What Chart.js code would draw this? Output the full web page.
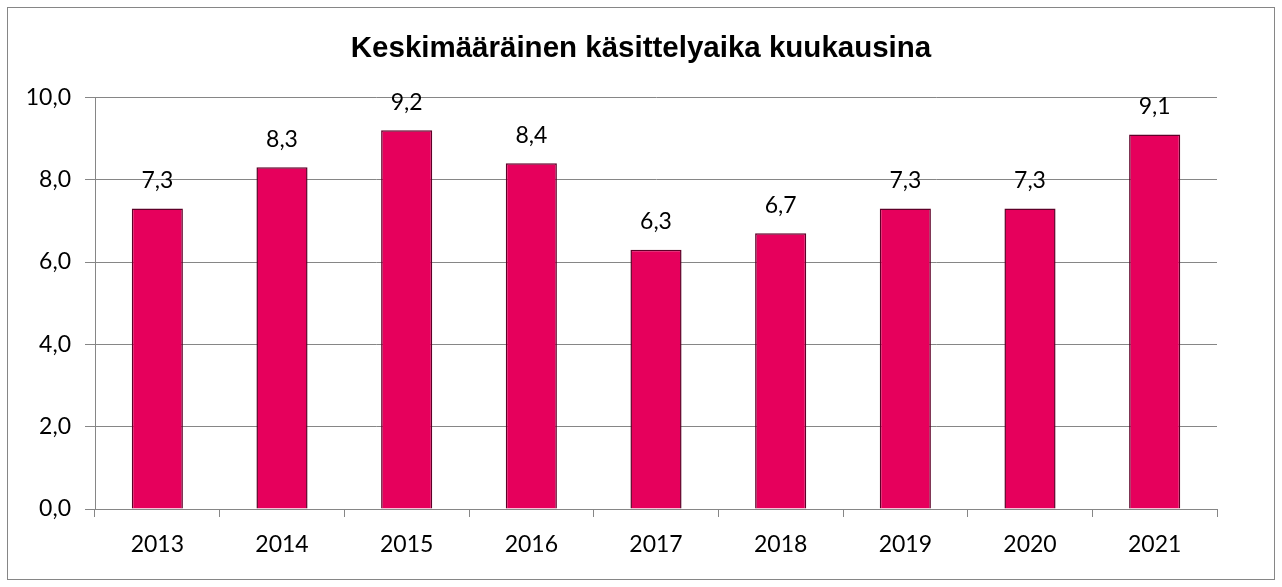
<!DOCTYPE html>
<html>
<head>
<meta charset="utf-8">
<script src="https://cdn.jsdelivr.net/npm/chart.js@4"></script>
<style>
  html, body { margin: 0; padding: 0; background: #fff; }
  #wrap { position: relative; width: 1282px; height: 587px; }
</style>
</head>
<body>
<div id="wrap"><canvas id="chart" width="1282" height="587"></canvas></div>
<script>
const years = ["2013", "2014", "2015", "2016", "2017", "2018", "2019", "2020", "2021"];
const months = [7.3, 8.3, 9.2, 8.4, 6.3, 6.7, 7.3, 7.3, 9.1];
const chartTitle = "Keskimääräinen käsittelyaika kuukausina";

const fmt = (v) => v.toFixed(1).replace(".", ",");

// outer frame like the spreadsheet chart box
const frame = {
  id: "frame",
  beforeDraw(chart) {
    const { ctx, width, height } = chart;
    ctx.save();
    ctx.fillStyle = "#fff";
    ctx.fillRect(0, 0, width, height);
    ctx.strokeStyle = "#868686";
    ctx.lineWidth = 1;
    ctx.strokeRect(7.5, 7.5, width - 15, height - 15);
    ctx.restore();
  },
};

const valueLabels = {
  id: "valueLabels",
  afterDatasetsDraw(chart) {
    const { ctx } = chart;
    const meta = chart.getDatasetMeta(0);
    ctx.save();
    ctx.font = "23px Lato, sans-serif";
    ctx.fillStyle = "#000";
    ctx.textAlign = "center";
    ctx.textBaseline = "middle";
    meta.data.forEach((bar, i) => {
      ctx.fillText(fmt(months[i]), bar.x, bar.y - 28);
    });
    ctx.restore();
  },
};

new Chart(document.getElementById("chart"), {
  type: "bar",
  data: {
    labels: years,
    datasets: [
      {
        data: months,
        backgroundColor: "#E6005C",
        borderColor: "#5E0028",
        borderWidth: 1.5,
        categoryPercentage: 1,
        barPercentage: 0.41,
      },
    ],
  },
  options: {
    responsive: false,
    animation: false,
    layout: { padding: 0 },
    plugins: {
      legend: { display: false },
      tooltip: { enabled: false },
      title: {
        display: true,
        text: chartTitle,
        color: "#000",
        font: { family: "'Liberation Sans', Arial, sans-serif", size: 29.5, weight: "bold" },
        padding: { top: 31, bottom: 31 },
      },
    },
    scales: {
      x: {
        grid: { drawOnChartArea: false, color: "#868686", tickLength: 8, offset: true },
        border: { color: "#868686" },
        ticks: { color: "#000", font: { family: "Lato, sans-serif", size: 23 }, padding: 14 },
        afterFit(scale) { scale.height = 78; },
      },
      y: {
        min: 0,
        max: 10,
        ticks: {
          stepSize: 2,
          color: "#000",
          font: { family: "Lato, sans-serif", size: 23 },
          padding: 14,
          callback: (v) => fmt(v),
        },
        grid: { color: "#868686", tickLength: 10 },
        border: { color: "#868686" },
        afterFit(scale) { scale.width = 95; },
      },
      // empty right-hand axis only keeps the gap to the frame
      spacer: {
        position: "right",
        min: 0,
        max: 10,
        ticks: { display: false },
        grid: { display: false },
        border: { display: false },
        afterFit(scale) { scale.width = 65; },
      },
    },
  },
  plugins: [frame, valueLabels],
});
</script>
</body>
</html>
